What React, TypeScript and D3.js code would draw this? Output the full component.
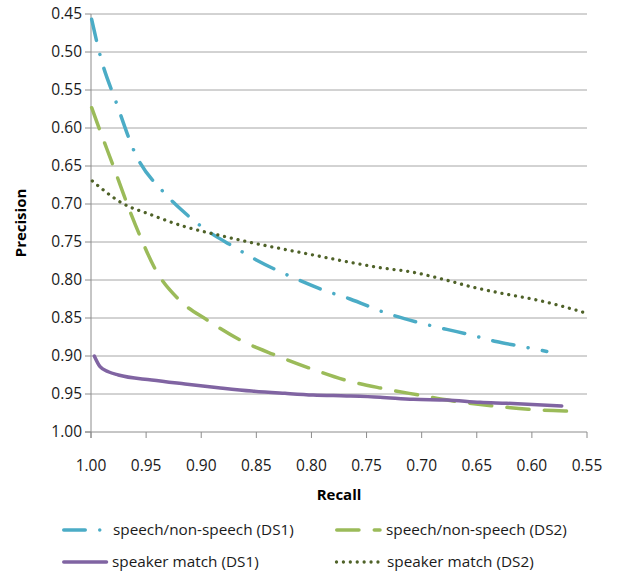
import React from "react";
import * as d3 from "d3";

const xTicks = [1.0, 0.95, 0.9, 0.85, 0.8, 0.75, 0.7, 0.65, 0.6, 0.55];
const yTicks = [0.45, 0.5, 0.55, 0.6, 0.65, 0.7, 0.75, 0.8, 0.85, 0.9, 0.95, 1.0];

const speechDS1Recall = [0.9994, 0.9918, 0.9767, 0.9607, 0.9338, 0.9177, 0.8995, 0.8709, 0.8496, 0.8194, 0.7877, 0.765, 0.7332, 0.7, 0.6772, 0.656, 0.6325, 0.6107, 0.5865];
const speechDS1Precision = [0.457, 0.504, 0.568, 0.631, 0.685, 0.708, 0.73, 0.756, 0.774, 0.795, 0.814, 0.825, 0.843, 0.857, 0.865, 0.872, 0.881, 0.887, 0.894];

const speechDS2Recall = [0.9994, 0.9918, 0.9798, 0.9676, 0.9555, 0.9413, 0.9208, 0.8936, 0.8648, 0.833, 0.8013, 0.7695, 0.7362, 0.703, 0.6742, 0.6364, 0.6032, 0.5699, 0.5563];
const speechDS2Precision = [0.5733, 0.6036, 0.65, 0.6983, 0.7421, 0.7868, 0.825, 0.8536, 0.8789, 0.8987, 0.9162, 0.9316, 0.9425, 0.9513, 0.9586, 0.9654, 0.9701, 0.9724, 0.9733];

const speakerDS1Recall = [0.997, 0.9918, 0.9843, 0.9752, 0.9449, 0.9147, 0.8845, 0.8542, 0.824, 0.7983, 0.768, 0.7377, 0.7075, 0.6772, 0.647, 0.6228, 0.5729];
const speakerDS1Precision = [0.9, 0.9141, 0.9207, 0.925, 0.9316, 0.9368, 0.9417, 0.9461, 0.9491, 0.9513, 0.9526, 0.9543, 0.957, 0.9579, 0.9609, 0.9622, 0.9658];

const speakerDS2Recall = [0.9988, 0.9719, 0.9449, 0.9147, 0.8845, 0.8542, 0.8262, 0.7983, 0.768, 0.7377, 0.7075, 0.6803, 0.6531, 0.6228, 0.5926, 0.5502];
const speakerDS2Precision = [0.6697, 0.6987, 0.7145, 0.7299, 0.7408, 0.7509, 0.7592, 0.7671, 0.7759, 0.7838, 0.7899, 0.7991, 0.8096, 0.8188, 0.8272, 0.8438];

const seriesNames = [
  "speech/non-speech (DS1)",
  "speech/non-speech (DS2)",
  "speaker match (DS1)",
  "speaker match (DS2)",
];

const FONT = "'Open Sans', 'DejaVu Sans', sans-serif";

export default function App() {
  const W = 620;
  const H = 575;
  const left = 91;
  const right = 587;
  const top = 14;
  const bottom = 432;

  const x = d3.scaleLinear().domain([1.0, 0.55]).range([left, right]);
  const y = d3.scaleLinear().domain([0.45, 1.0]).range([top, bottom]);

  const line = d3
    .line<[number, number]>()
    .x((d) => x(d[0]))
    .y((d) => y(d[1]))
    .curve(d3.curveMonotoneX);

  const zip = (a: number[], b: number[]) => a.map((v, i) => [v, b[i]] as [number, number]);

  const series = [
    { name: seriesNames[0], data: zip(speechDS1Recall, speechDS1Precision), color: "#4bacc6", width: 3.5, dash: "21.5,14.5,0.01,14.5", cap: "round" },
    { name: seriesNames[1], data: zip(speechDS2Recall, speechDS2Precision), color: "#9bbb59", width: 3.5, dash: "22.2,15.3", cap: "round" },
    { name: seriesNames[2], data: zip(speakerDS1Recall, speakerDS1Precision), color: "#8064a2", width: 3.5, dash: undefined, cap: "round" },
    { name: seriesNames[3], data: zip(speakerDS2Recall, speakerDS2Precision), color: "#4f6228", width: 3.3, dash: "0.01,6.9", cap: "round" },
  ];

  const legendPos = [
    { lx1: 63.75, lx2: 110, tx: 113, ty: 530 },
    { lx1: 336.75, lx2: 380, tx: 386, ty: 530 },
    { lx1: 63.75, lx2: 106.5, tx: 112, ty: 562 },
    { lx1: 336.5, lx2: 378, tx: 387, ty: 562 },
  ];

  return (
    <div style={{ position: "absolute", left: 0, top: 0 }}>
      <svg width={W} height={H} viewBox={`0 0 ${W} ${H}`} style={{ display: "block", background: "#fff" }}>
        {yTicks.slice(0, -1).map((t) => (
          <line key={"g" + t} x1={left} x2={right} y1={y(t)} y2={y(t)} stroke="#a6a6a6" strokeWidth={1} />
        ))}
        <line x1={left} x2={left} y1={top} y2={bottom + 6} stroke="#8c8c8c" strokeWidth={1} />
        <line x1={left - 6} x2={right} y1={bottom} y2={bottom} stroke="#8c8c8c" strokeWidth={1} />
        {yTicks.map((t) => (
          <g key={"y" + t}>
            <line x1={left - 6} x2={left} y1={y(t)} y2={y(t)} stroke="#8c8c8c" />
            <text x={left - 9} y={y(t)} dy="0.35em" textAnchor="end" fontFamily={FONT} fontSize={15.5} fill="#1a1a1a">
              {t.toFixed(2)}
            </text>
          </g>
        ))}
        {xTicks.map((t) => (
          <g key={"x" + t}>
            <line x1={x(t)} x2={x(t)} y1={bottom} y2={bottom + 6} stroke="#8c8c8c" />
            <text x={x(t)} y={466} dy="0.35em" textAnchor="middle" fontFamily={FONT} fontSize={15.5} fill="#1a1a1a">
              {t.toFixed(2)}
            </text>
          </g>
        ))}
        <text x={(left + right) / 2} y={495} dy="0.35em" textAnchor="middle" fontFamily={FONT} fontSize={15} fontWeight="bold" fill="#000">
          Recall
        </text>
        <text
          transform={`translate(21, ${(top + bottom) / 2}) rotate(-90)`}
          dy="0.35em"
          textAnchor="middle"
          fontFamily={FONT}
          fontSize={15}
          fontWeight="bold"
          fill="#000"
        >
          Precision
        </text>
        {series.map((s) => (
          <path
            key={s.name}
            d={line(s.data) || ""}
            fill="none"
            stroke={s.color}
            strokeWidth={s.width}
            strokeDasharray={s.dash}
            strokeLinecap={s.cap as any}
            strokeLinejoin="round"
          />
        ))}
        {series.map((s, i) => {
          const p = legendPos[i];
          return (
            <g key={"l" + i}>
              <line
                x1={p.lx1}
                x2={p.lx2}
                y1={p.ty}
                y2={p.ty}
                stroke={s.color}
                strokeWidth={s.width}
                strokeDasharray={s.dash}
                strokeLinecap={s.cap as any}
              />
              <text x={p.tx} y={p.ty} dy="0.35em" fontFamily={FONT} fontSize={15.3} fill="#1a1a1a">
                {s.name}
              </text>
            </g>
          );
        })}
      </svg>
    </div>
  );
}
